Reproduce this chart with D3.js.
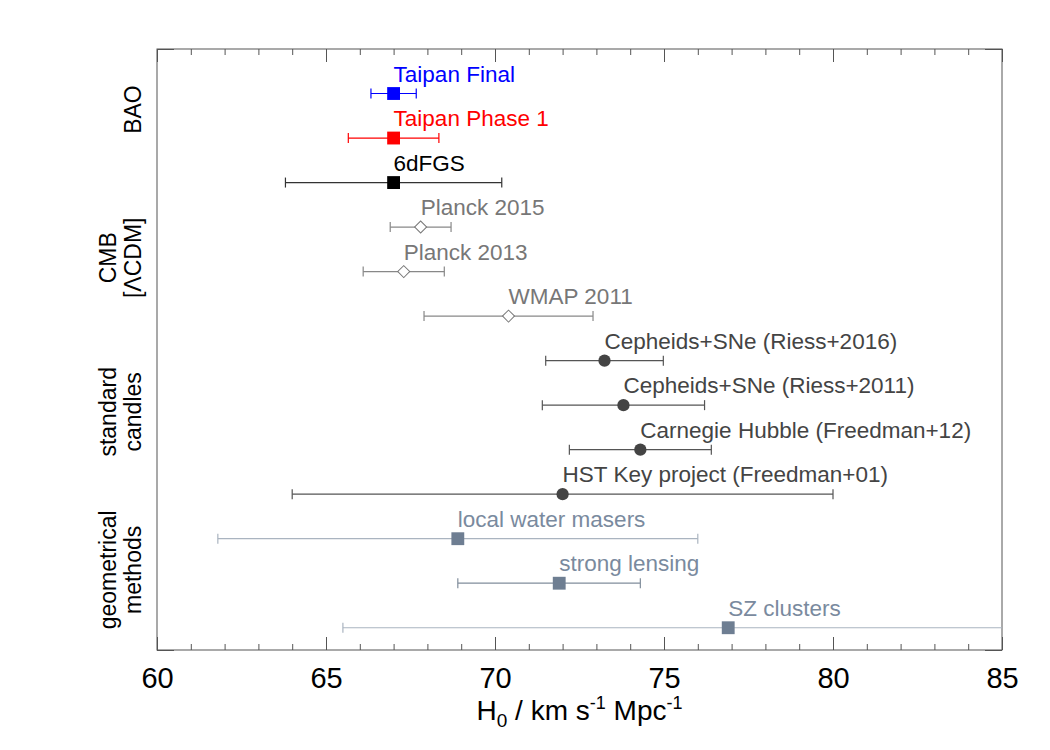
<!DOCTYPE html>
<html>
<head>
<meta charset="utf-8">
<script src="https://cdn.jsdelivr.net/npm/d3@7/dist/d3.min.js"></script>
<style>
  body { margin: 0; background: #fff; }
  text { font-family: "Liberation Sans", Arial, Helvetica, sans-serif; }
</style>
</head>
<body>
<div id="chart"></div>
<script>
// H0 measurements, one row per entry, top to bottom
var labels = ["Taipan Final", "Taipan Phase 1", "6dFGS",
              "Planck 2015", "Planck 2013", "WMAP 2011",
              "Cepheids+SNe (Riess+2016)", "Cepheids+SNe (Riess+2011)",
              "Carnegie Hubble (Freedman+12)", "HST Key project (Freedman+01)",
              "local water masers", "strong lensing", "SZ clusters"];
var h0     = [67.0, 67.0, 67.0, 67.8, 67.3, 70.4, 73.24, 73.8, 74.3, 72.0, 68.9, 71.9, 76.9];
var errLo  = [0.67, 1.34, 3.2, 0.9, 1.2, 2.5, 1.74, 2.4, 2.1, 8.0, 7.1, 3.0, 11.4];
var errHi  = [0.67, 1.34, 3.2, 0.9, 1.2, 2.5, 1.74, 2.4, 2.1, 8.0, 7.1, 2.4, 10.7];
var kind   = ["bao", "bao", "bao", "cmb", "cmb", "cmb",
              "candle", "candle", "candle", "candle", "geo", "geo", "geo"];

// method groups on the left, position given in row units
var groupText = [["BAO"], ["CMB", "[\u039BCDM]"], ["standard", "candles"], ["geometrical", "methods"]];
var groupRow  = [0.36, 3.69, 7.15, 10.7];

var xTicks = [60, 65, 70, 75, 80, 85];

// look of each entry
var styles = {
    "Taipan Final":   { shape: "square", fill: "#0000ff", line: "#0000ff", text: "#0000ff" },
    "Taipan Phase 1": { shape: "square", fill: "#ff0000", line: "#ff0000", text: "#ff0000" },
    "6dFGS":          { shape: "square", fill: "#000000", line: "#333333", text: "#000000" }
};
var kindStyles = {
    cmb:    { shape: "diamond", fill: "#ffffff", stroke: "#777777", line: "#888888", text: "#777777" },
    candle: { shape: "circle", fill: "#444444", line: "#555555", text: "#444444" },
    geo:    { shape: "square", fill: "#6e7e92", line: "#aab4c0", text: "#7a8a9e" }
};
function styleOf(i) {
    var s = styles[labels[i]] || kindStyles[kind[i]];
    if (labels[i] === "strong lensing") s = Object.assign({}, s, { line: "#808d9b" });
    return s;
}

var W = 1050, H = 750;
var margin = { top: 49, right: 48, bottom: 100, left: 157 };
var width = W - margin.left - margin.right,
    height = H - margin.top - margin.bottom;

var svg = d3.select("#chart").append("svg")
    .attr("width", W).attr("height", H);
svg.append("rect").attr("width", W).attr("height", H).attr("fill", "#fff");

var g = svg.append("g")
    .attr("transform", "translate(" + margin.left + "," + margin.top + ")");

var x = d3.scaleLinear().domain([60, 85]).range([0, width]);
var y = d3.scaleLinear().domain([-1, 12.5]).range([0, height]);

g.append("clipPath").attr("id", "plotclip")
    .append("rect").attr("width", width).attr("height", height);

// axes with inward ticks
var minor = d3.range(60, 86).filter(function(v) { return v % 5 !== 0; });

var bottom = g.append("g").attr("transform", "translate(0," + height + ")")
    .call(d3.axisBottom(x).tickValues(xTicks).tickSize(-13).tickPadding(17).tickFormat(d3.format("d")));
bottom.selectAll("text").attr("font-size", 29).attr("fill", "#000")
    .style("font-family", "'Liberation Sans', Arial, sans-serif");
g.append("g").attr("transform", "translate(0," + height + ")")
    .call(d3.axisBottom(x).tickValues(minor).tickSize(-6).tickFormat(""));

g.append("g")
    .call(d3.axisTop(x).tickValues(xTicks).tickSize(-13).tickFormat(""));
g.append("g")
    .call(d3.axisTop(x).tickValues(minor).tickSize(-6).tickFormat(""));

g.append("g").call(d3.axisLeft(y).tickValues(y.domain()).tickSize(-17).tickFormat(""));
g.append("g").attr("transform", "translate(" + width + ",0)")
    .call(d3.axisRight(y).tickValues(y.domain()).tickSize(-17).tickFormat(""));

g.selectAll(".domain").remove();
g.selectAll(".tick line").attr("stroke", "#555");

g.append("rect").attr("width", width).attr("height", height)
    .attr("fill", "none").attr("stroke", "#555").attr("stroke-width", 1);

// error bars
var rows = d3.range(labels.length);
var bars = g.append("g").attr("clip-path", "url(#plotclip)")
    .selectAll("g").data(rows).enter().append("g")
    .attr("stroke", function(i) { return styleOf(i).line; })
    .attr("stroke-width", 1.2);

bars.append("line")
    .attr("x1", function(i) { return x(h0[i] - errLo[i]); })
    .attr("x2", function(i) { return x(h0[i] + errHi[i]); })
    .attr("y1", function(i) { return y(i); })
    .attr("y2", function(i) { return y(i); });
bars.append("line")
    .attr("x1", function(i) { return x(h0[i] - errLo[i]); })
    .attr("x2", function(i) { return x(h0[i] - errLo[i]); })
    .attr("y1", function(i) { return y(i) - 5; })
    .attr("y2", function(i) { return y(i) + 5; });
bars.append("line")
    .attr("x1", function(i) { return x(h0[i] + errHi[i]); })
    .attr("x2", function(i) { return x(h0[i] + errHi[i]); })
    .attr("y1", function(i) { return y(i) - 5; })
    .attr("y2", function(i) { return y(i) + 5; });

// markers
var symbolFor = {
    square:  d3.symbol().type(d3.symbolSquare).size(165),
    diamond: d3.symbol().type(d3.symbolSquare).size(72),
    circle:  d3.symbol().type(d3.symbolCircle).size(118)
};
g.append("g").selectAll("path").data(rows).enter().append("path")
    .attr("d", function(i) { return symbolFor[styleOf(i).shape](); })
    .attr("transform", function(i) {
        var t = "translate(" + x(h0[i]) + "," + y(i) + ")";
        return styleOf(i).shape === "diamond" ? t + " rotate(45)" : t;
    })
    .attr("fill", function(i) { return styleOf(i).fill; })
    .attr("stroke", function(i) { return styleOf(i).stroke || "none"; })
    .attr("stroke-width", 1);

// labels above markers
g.append("g").selectAll("text").data(rows).enter().append("text")
    .attr("x", function(i) { return x(h0[i]); })
    .attr("y", function(i) { return y(i) - 12; })
    .attr("font-size", 22.5)
    .attr("fill", function(i) { return styleOf(i).text; })
    .text(function(i) { return labels[i]; });

// group names, rotated
groupText.forEach(function(lines, k) {
    var cy = margin.top + y(groupRow[k]);
    var t = svg.append("text")
        .attr("transform", "translate(0," + cy + ") rotate(-90)")
        .attr("text-anchor", "middle")
        .attr("font-size", 23)
        .attr("fill", "#000");
    var base = 141 - (lines.length - 1) * 25;
    lines.forEach(function(s, j) {
        t.append("tspan").attr("x", 0).attr("y", base + j * 25).text(s);
    });
});

// x axis title
var xt = svg.append("text")
    .attr("x", margin.left + width / 2)
    .attr("y", 720)
    .attr("text-anchor", "middle")
    .attr("font-size", 28)
    .attr("fill", "#000");
xt.append("tspan").text("H");
xt.append("tspan").attr("font-size", 19).attr("dy", 7).text("0");
xt.append("tspan").attr("dy", -7).text(" / km s");
xt.append("tspan").attr("font-size", 18).attr("dy", -11).text("-1");
xt.append("tspan").attr("dy", 11).text(" Mpc");
xt.append("tspan").attr("font-size", 18).attr("dy", -11).text("-1");
</script>
</body>
</html>
